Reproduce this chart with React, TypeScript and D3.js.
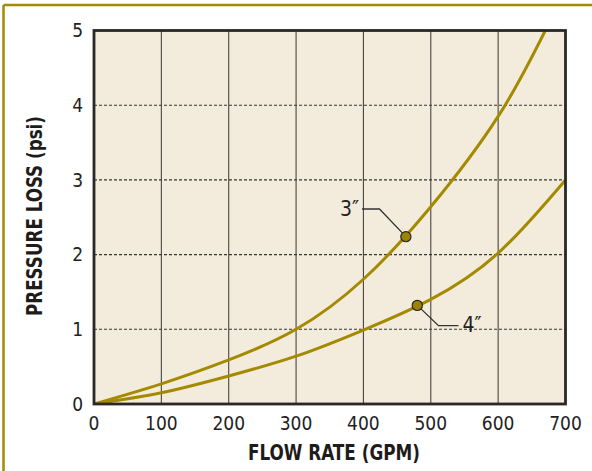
import React from "react";
import * as d3 from "d3";

const xTicks = [0, 100, 200, 300, 400, 500, 600, 700];
const yTicks = [0, 1, 2, 3, 4, 5];

const flow3 = [0, 100, 200, 300, 400, 500, 600, 670];
const loss3 = [0, 0.27, 0.59, 1.0, 1.67, 2.64, 3.85, 5.0];

const flow4 = [0, 100, 200, 300, 400, 500, 600, 700];
const loss4 = [0, 0.15, 0.375, 0.64, 0.99, 1.4, 2.02, 3.0];

const markers = [
  { label: "3″", q: 463, p: 2.24 },
  { label: "4″", q: 480, p: 1.32 },
];

const W = 592;
const H = 471;
const FONT = "'Liberation Sans Narrow', 'DejaVu Sans Condensed', 'Roboto Condensed', Arial, sans-serif";
const GOLD = "#a38a00";

export default function App() {
  const x = d3.scaleLinear().domain([0, 700]).range([94, 565.5]);
  const y = d3.scaleLinear().domain([0, 5]).range([404, 30.5]);
  const line = d3
    .line<[number, number]>()
    .x((d) => x(d[0]))
    .y((d) => y(d[1]))
    .curve(d3.curveNatural);
  const d3in = line(flow3.map((q, i) => [q, loss3[i]] as [number, number])) || "";
  const d4in = line(flow4.map((q, i) => [q, loss4[i]] as [number, number])) || "";

  const m3 = markers[0];
  const m4 = markers[1];
  const m3x = x(m3.q), m3y = y(m3.p);
  const m4x = x(m4.q), m4y = y(m4.p);

  return (
    <svg
      width={W}
      height={H}
      viewBox={`0 0 ${W} ${H}`}
      style={{ position: "absolute", left: 0, top: 0, background: "#ffffff" }}
    >
      <defs>
        <clipPath id="plotclip">
          <rect x={x(0)} y={y(5)} width={x(700) - x(0)} height={y(0) - y(5)} />
        </clipPath>
      </defs>
      <line x1={3.5} y1={5} x2={W} y2={5} stroke={GOLD} strokeWidth={2.5} />
      <line x1={3.5} y1={5} x2={3.5} y2={H} stroke={GOLD} strokeWidth={2.5} />

      <rect x={x(0)} y={y(5)} width={x(700) - x(0)} height={y(0) - y(5)} fill="#f3ecdc" />

      {xTicks.slice(1, -1).map((t) => (
        <line key={"vx" + t} x1={x(t)} x2={x(t)} y1={y(5)} y2={y(0)} stroke="#4a4542" strokeWidth={1.1} />
      ))}
      {yTicks.slice(1, -1).map((t) => (
        <line
          key={"hy" + t}
          x1={x(0)}
          x2={x(700)}
          y1={y(t)}
          y2={y(t)}
          stroke="#3a3632"
          strokeWidth={1.1}
          strokeDasharray="3,2"
        />
      ))}

      <g clipPath="url(#plotclip)">
        <path d={d3in} fill="none" stroke={GOLD} strokeWidth={3} />
        <path d={d4in} fill="none" stroke={GOLD} strokeWidth={3} />
      </g>

      <rect
        x={x(0)}
        y={y(5)}
        width={x(700) - x(0)}
        height={y(0) - y(5)}
        fill="none"
        stroke="#2a2826"
        strokeWidth={2.8}
      />

      <polyline
        points={`${362},${209} ${379.5},${209} ${m3x},${m3y}`}
        fill="none"
        stroke="#333"
        strokeWidth={1.3}
      />
      <polyline
        points={`${m4x},${m4y} ${438.5},${325.7} ${458.5},${325.7}`}
        fill="none"
        stroke="#333"
        strokeWidth={1.3}
      />
      {markers.map((m) => (
        <circle key={m.label} cx={x(m.q)} cy={y(m.p)} r={5.1} fill="#9c8400" stroke="#2a2826" strokeWidth={1.2} />
      ))}
      <text x={340} y={216} fontFamily={FONT} fontSize={21} fill="#222">
        {m3.label}
      </text>
      <text x={462.5} y={332} fontFamily={FONT} fontSize={21} fill="#222">
        {m4.label}
      </text>

      {xTicks.map((t) => (
        <text key={"xt" + t} x={x(t)} y={430} textAnchor="middle" fontFamily={FONT} fontSize={19} fill="#222">
          {t}
        </text>
      ))}
      {yTicks.map((t) => (
        <text
          key={"yt" + t}
          x={83}
          y={y(t)}
          dy="0.36em"
          textAnchor="end"
          fontFamily={FONT}
          fontSize={19}
          fill="#222"
        >
          {t}
        </text>
      ))}

      <text
        x={334}
        y={459.5}
        textAnchor="middle"
        fontFamily={FONT}
        fontWeight="bold"
        fontSize={22}
        fill="#1e1c1a"
        textLength={172}
        lengthAdjust="spacingAndGlyphs"
      >
        FLOW RATE (GPM)
      </text>
      <text
        transform={`translate(41.5, 216) rotate(-90)`}
        textAnchor="middle"
        fontFamily={FONT}
        fontWeight="bold"
        fontSize={22}
        fill="#1e1c1a"
        textLength={200}
        lengthAdjust="spacingAndGlyphs"
      >
        PRESSURE LOSS (psi)
      </text>
    </svg>
  );
}
